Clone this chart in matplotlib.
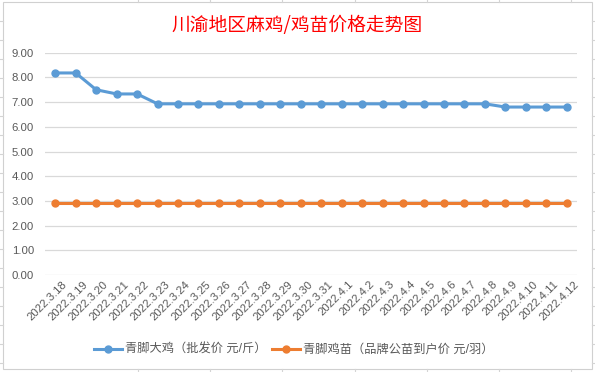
import matplotlib
matplotlib.use("Agg")
import matplotlib.pyplot as plt
import matplotlib.transforms as mtransforms
from matplotlib.lines import Line2D

plt.rcParams['font.family'] = ['Liberation Sans', 'Noto Sans CJK SC', 'DejaVu Sans']

# data
dates = ["2022.3.18", "2022.3.19", "2022.3.20", "2022.3.21", "2022.3.22", "2022.3.23",
         "2022.3.24", "2022.3.25", "2022.3.26", "2022.3.27", "2022.3.28", "2022.3.29",
         "2022.3.30", "2022.3.31", "2022.4.1", "2022.4.2", "2022.4.3", "2022.4.4",
         "2022.4.5", "2022.4.6", "2022.4.7", "2022.4.8", "2022.4.9", "2022.4.10",
         "2022.4.11", "2022.4.12"]
chicken = [8.18, 8.18, 7.5, 7.33, 7.33, 6.93, 6.93, 6.93, 6.93, 6.93, 6.93, 6.93, 6.93,
           6.93, 6.93, 6.93, 6.93, 6.93, 6.93, 6.93, 6.93, 6.93, 6.8, 6.8, 6.8, 6.8]
chick = [2.92] * 26
name_chicken = "青脚大鸡（批发价 元/斤）"
name_chick = "青脚鸡苗（品牌公苗到户价 元/羽）"
title = "川渝地区麻鸡/鸡苗价格走势图"

W, H = 595, 372
fig = plt.figure(figsize=(W / 100, H / 100), dpi=100)

def fx(px):
    return px / W

def fy(py):
    return 1 - py / H

# excel sheet gridlines showing around the chart
grid_c = "#d4d4d4"
for k in range(19):
    y = fy(21 + 19 * k)
    fig.add_artist(Line2D([0, fx(3)], [y, y], color=grid_c, lw=0.8))
    fig.add_artist(Line2D([fx(592), 1], [y, y], color=grid_c, lw=0.8))
for k in range(7):
    x = fx(138 + 72.2 * k)
    fig.add_artist(Line2D([x, x], [fy(2), 1], color=grid_c, lw=0.8))
    fig.add_artist(Line2D([x, x], [0, fy(369)], color=grid_c, lw=0.8))
# chart border
fig.add_artist(plt.Rectangle((fx(3), fy(369)), fx(589), fy(2) - fy(369),
                             fill=False, edgecolor="#d0d0d0", lw=0.8))

ax = fig.add_axes([fx(45), fy(275), fx(577 - 45), fy(52.7) - fy(275)])
x = list(range(len(dates)))
ax.plot(x, chicken, color="#5b9bd5", lw=2.2, marker="o", ms=5, label=name_chicken)
ax.plot(x, chick, color="#ed7d31", lw=2.2, marker="o", ms=5, label=name_chick)

ax.set_xlim(-0.5, len(dates) - 0.5)
ax.set_ylim(0, 9)
ax.set_yticks(range(10))
ax.set_yticklabels([f"{v:.2f}" for v in range(10)])
ax.set_xticks(x)
ax.set_xticklabels(dates, rotation=45, ha="right", rotation_mode="anchor")
ax.tick_params(axis="both", length=0, labelsize=8.2, labelcolor="#595959")
ax.tick_params(axis="y", pad=8)
ax.tick_params(axis="x", pad=3)
shift = mtransforms.ScaledTranslation(5 / 72, 0, fig.dpi_scale_trans)
for lab in ax.get_xticklabels():
    lab.set_transform(lab.get_transform() + shift)
ax.grid(axis="y", color="#d9d9d9", lw=0.9)
ax.set_axisbelow(True)
for s in ax.spines.values():
    s.set_visible(False)

fig.text(0.499, fy(25), title, color="red", fontsize=13.5, ha="center", va="center",
         family=["Noto Sans CJK SC"])

fig.legend(loc="center", bbox_to_anchor=(0.494, fy(350)), ncol=2, frameon=False,
           fontsize=8.8, labelcolor="#595959", handlelength=2.3, columnspacing=0.4,
           handletextpad=0.25)

fig.savefig("out.png", dpi=100)
